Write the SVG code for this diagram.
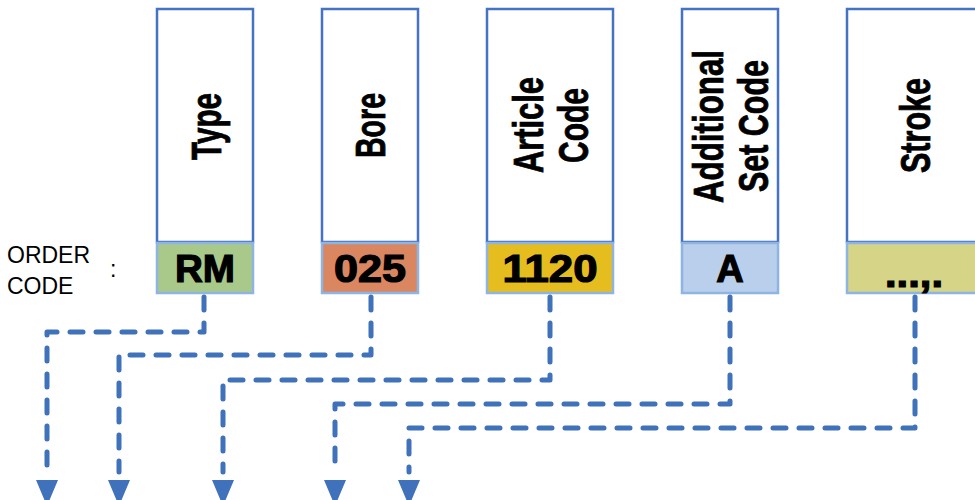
<svg xmlns="http://www.w3.org/2000/svg" width="975" height="500" viewBox="0 0 975 500">
<style>
.hdr{fill:#ffffff;stroke:#4472C4;stroke-width:2.5}
.code{stroke:#8DB4E2;stroke-width:2.5}
.lbl{font-family:"Liberation Sans Narrow","Liberation Sans",Arial,sans-serif;font-weight:bold;font-size:42px;fill:#000;stroke:#000;stroke-width:0.8;text-anchor:middle}
.val{font-family:"Liberation Sans",Arial,sans-serif;font-weight:bold;font-size:38px;fill:#000;stroke:#000;stroke-width:1.2;text-anchor:middle}
.side{font-family:"Liberation Sans",Arial,sans-serif;font-size:23px;fill:#000}
.conn{fill:none;stroke:#3F72BA;stroke-width:5;stroke-linecap:round;stroke-linejoin:round;stroke-dasharray:13 13}
.head{fill:#3F72BA}
</style>
<rect width="975" height="500" fill="#ffffff"/>
<g id="order-code-label">
<text class="side" x="7" y="263">ORDER</text>
<text class="side" x="7" y="294">CODE</text>
<text class="side" x="110" y="277">:</text>
</g>
<g id="node-type">
<rect class="hdr" x="157" y="9" width="96" height="233"/>
<text class="lbl" transform="translate(221 126.5) rotate(-90)" textLength="67" lengthAdjust="spacingAndGlyphs">Type</text>
<rect class="code" x="157" y="243" width="96" height="50" fill="#A9C98B"/>
<text class="val" x="205" y="282" textLength="60" lengthAdjust="spacingAndGlyphs">RM</text>
</g>
<g id="node-bore">
<rect class="hdr" x="322" y="9" width="96" height="233"/>
<text class="lbl" transform="translate(385 125.5) rotate(-90)" textLength="65" lengthAdjust="spacingAndGlyphs">Bore</text>
<rect class="code" x="322" y="243" width="96" height="50" fill="#D98661"/>
<text class="val" x="370" y="282" textLength="72" lengthAdjust="spacingAndGlyphs">025</text>
</g>
<g id="node-article">
<rect class="hdr" x="487" y="9" width="126" height="233"/>
<text class="lbl" transform="translate(543 125) rotate(-90)" textLength="96" lengthAdjust="spacingAndGlyphs">Article</text>
<text class="lbl" transform="translate(588 125.5) rotate(-90)" textLength="75" lengthAdjust="spacingAndGlyphs">Code</text>
<rect class="code" x="487" y="243" width="126" height="50" fill="#E5BD1F"/>
<text class="val" x="550" y="282" textLength="95" lengthAdjust="spacingAndGlyphs">1120</text>
</g>
<g id="node-additional">
<rect class="hdr" x="682" y="9" width="96" height="233"/>
<text class="lbl" transform="translate(723 126.5) rotate(-90)" textLength="153" lengthAdjust="spacingAndGlyphs">Additional</text>
<text class="lbl" transform="translate(768 126) rotate(-90)" textLength="132" lengthAdjust="spacingAndGlyphs">Set Code</text>
<rect class="code" x="682" y="243" width="96" height="50" fill="#B9CFEB"/>
<text class="val" x="730" y="282">A</text>
</g>
<g id="node-stroke">
<rect class="hdr" x="847" y="9" width="136" height="233"/>
<text class="lbl" transform="translate(930 125.5) rotate(-90)" textLength="95" lengthAdjust="spacingAndGlyphs">Stroke</text>
<rect class="code" x="847" y="243" width="136" height="50" fill="#D6D486"/>
<text class="val" x="914" y="287" textLength="58" lengthAdjust="spacingAndGlyphs">...,.</text>
</g>
<g id="connectors">
<path class="conn" d="M204 297 V332 H47 V472"/>
<path class="conn" d="M371 297 V355 H119 V472"/>
<path class="conn" d="M550 297 V380 H223 V472"/>
<path class="conn" d="M730 297 V404 H335 V472"/>
<path class="conn" d="M915 297 V428 H409 V472"/>
<polygon class="head" points="36,480 58,480 47,506"/>
<polygon class="head" points="108,480 130,480 119,506"/>
<polygon class="head" points="212,480 234,480 223,506"/>
<polygon class="head" points="324,480 346,480 335,506"/>
<polygon class="head" points="398,480 420,480 409,506"/>
</g>
</svg>
